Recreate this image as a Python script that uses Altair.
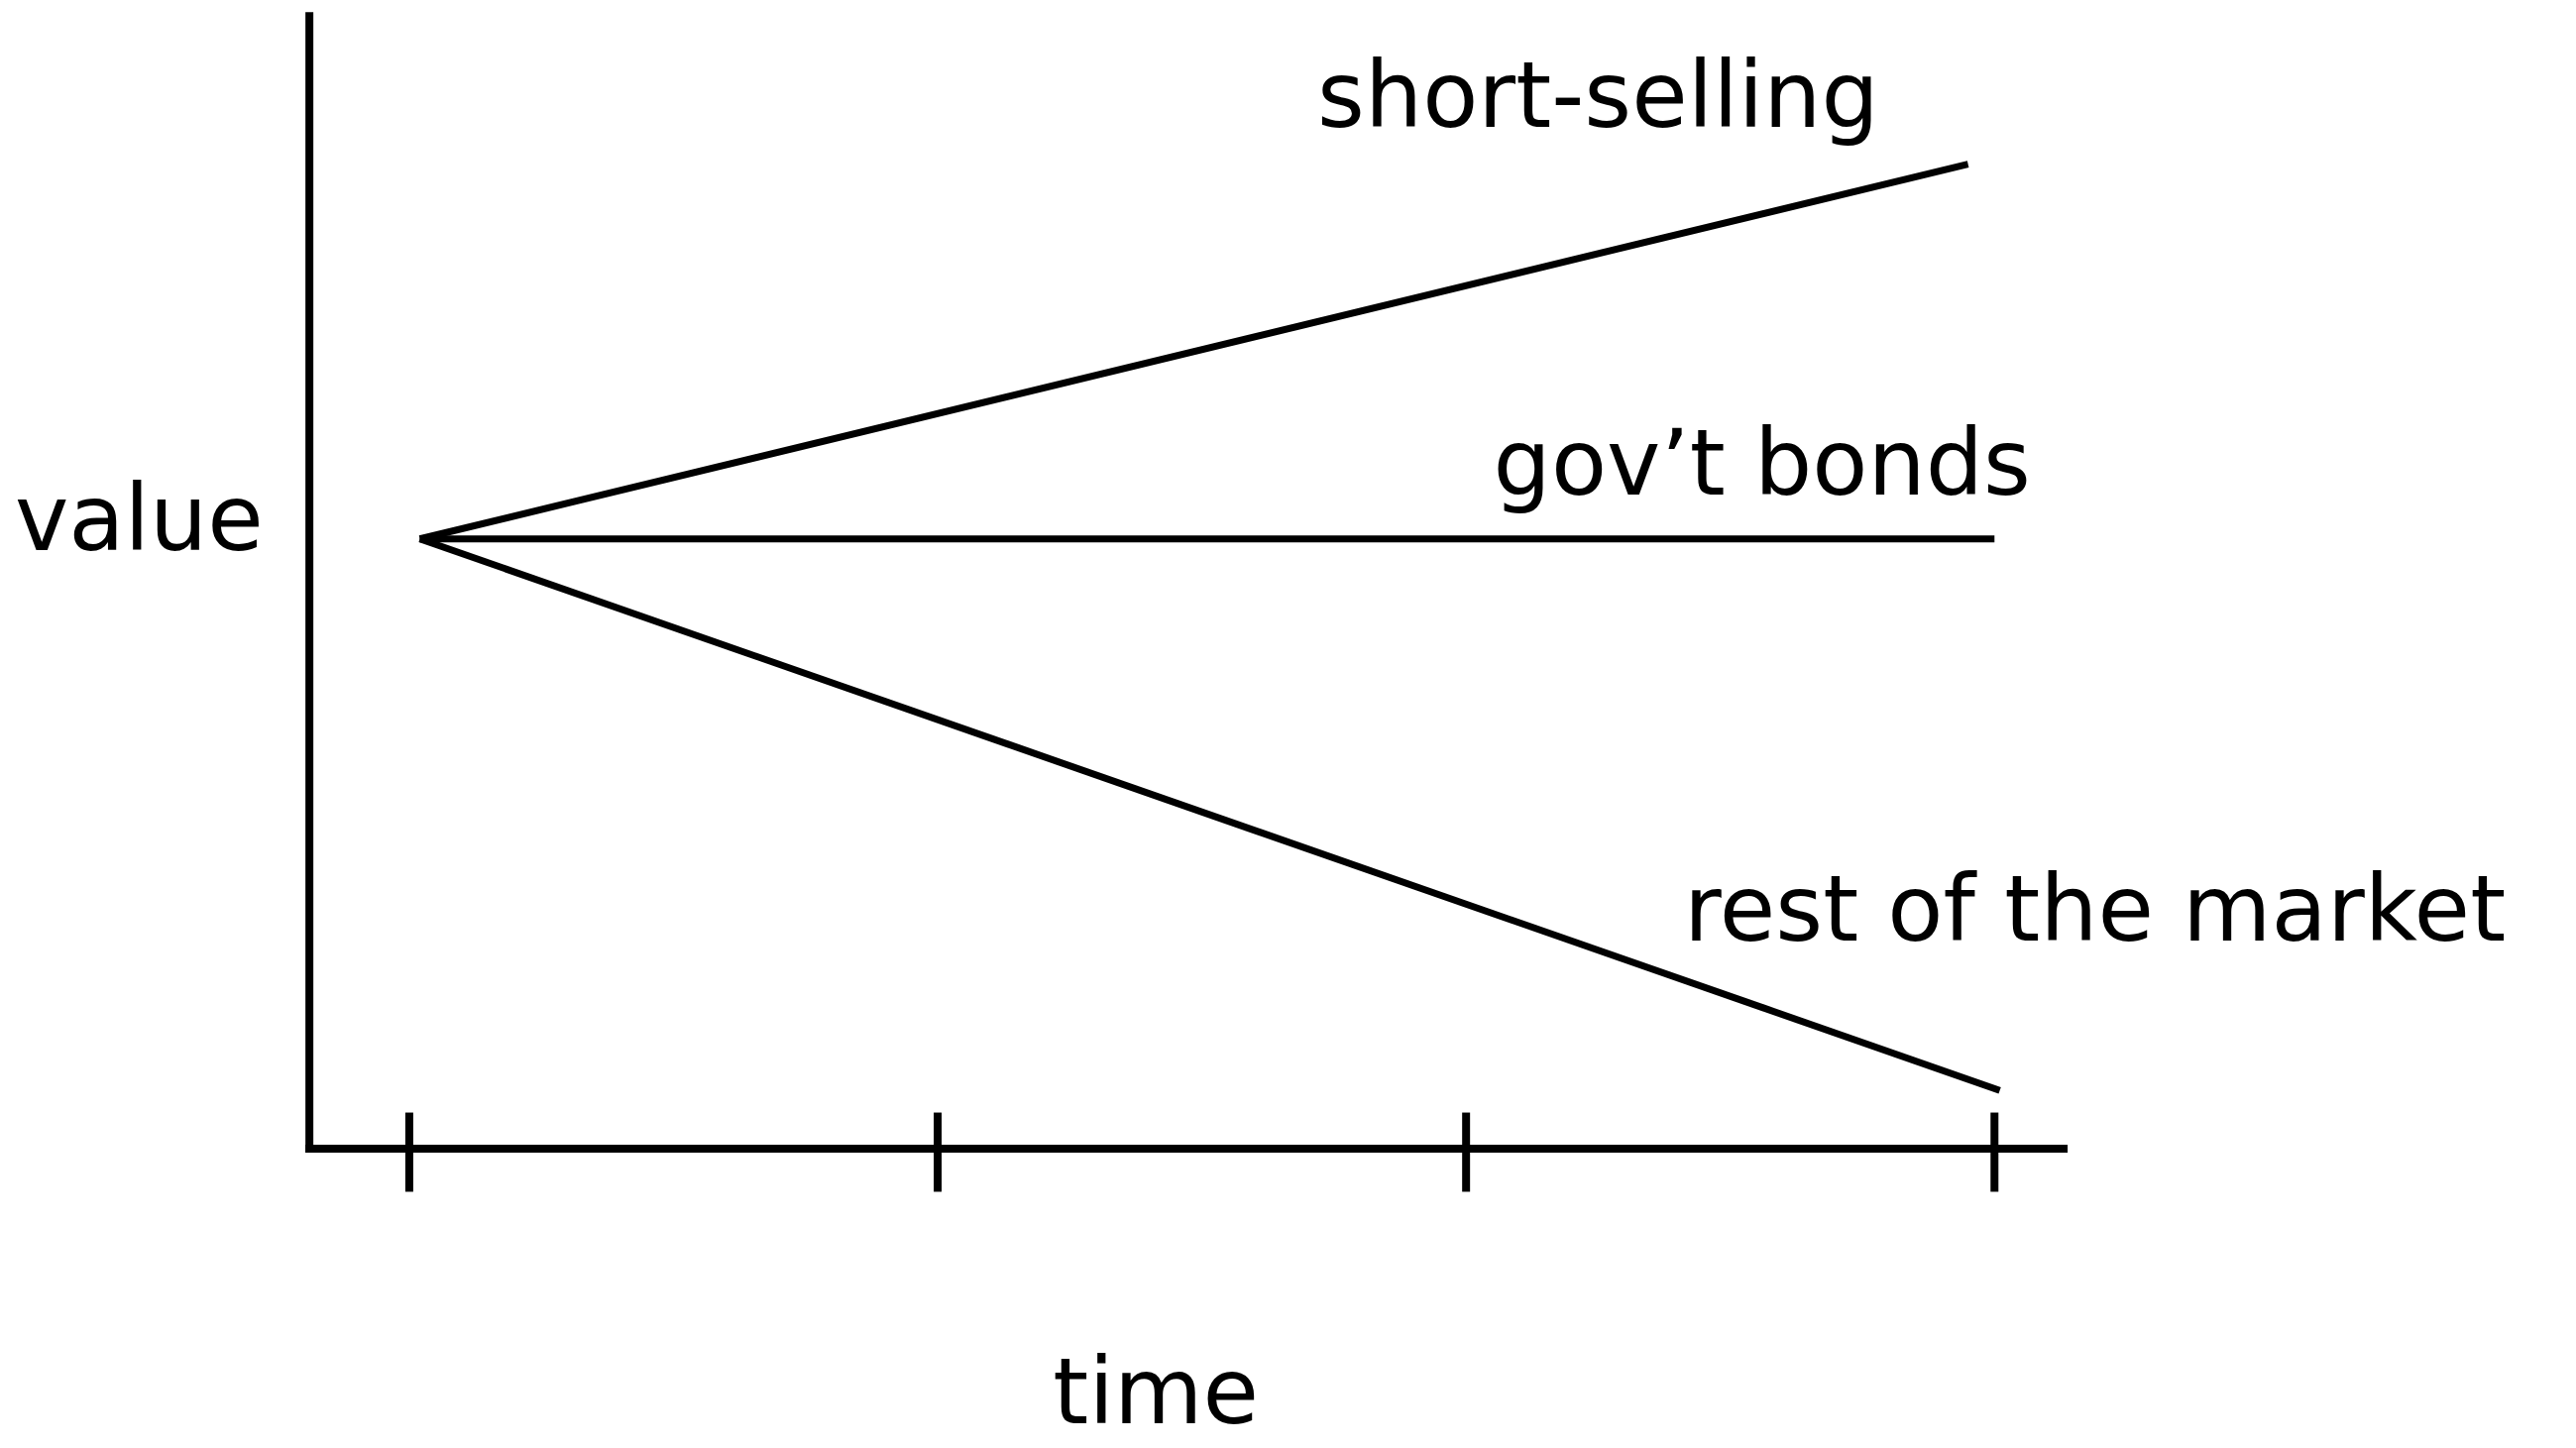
import altair as alt
import pandas as pd

# Series: start and end points (time, value)
series = ["short-selling", "gov’t bonds", "rest of the market"]
start_time = [0.02, 0.02, 0.02]
start_value = [53.8, 53.8, 53.8]
end_time = [2.95, 3.0, 3.01]
end_value = [86.9, 53.8, 5.1]

# Label anchors (centre x, baseline y) in data units
label_time = [2.25, 2.56, 3.19]
label_value = [90.2, 57.7, 18.3]

tick_times = [0, 1, 2, 3]

x_domain = [-0.19, 3.13]
y_domain = [0, 100]

W, H = 1772, 1144
FONT = "DejaVu Sans"
FS = 92

rows = []
for s, t0, v0, t1, v1 in zip(series, start_time, start_value, end_time, end_value):
    rows.append({"series": s, "time": t0, "value": v0, "order": 0})
    rows.append({"series": s, "time": t1, "value": v1, "order": 1})
lines_df = pd.DataFrame(rows)
labels_df = pd.DataFrame({"series": series, "time": label_time, "value": label_value})
ticks_df = pd.DataFrame({"time": tick_times})

xs = alt.Scale(domain=x_domain, nice=False, zero=False)
ys = alt.Scale(domain=y_domain, nice=False, zero=False)

x_axis = alt.Axis(
    title="time", labels=False, ticks=False, grid=False,
    domainColor="black", domainWidth=8, domainCap="square",
    titleFont=FONT, titleFontSize=FS, titleFontWeight="normal", titleColor="black",
    titleAlign="center", titleBaseline="alphabetic", titleX=855, titleY=277,
)
y_axis = alt.Axis(
    title="value", labels=False, ticks=False, grid=False,
    domainColor="black", domainWidth=8, domainCap="square",
    titleFont=FONT, titleFontSize=FS, titleFontWeight="normal", titleColor="black",
    titleAngle=0, titleAlign="center", titleBaseline="alphabetic", titleX=-172, titleY=539,
)

lines = alt.Chart(lines_df).mark_line(color="black", strokeWidth=7, clip=False).encode(
    x=alt.X("time:Q", scale=xs, axis=x_axis),
    y=alt.Y("value:Q", scale=ys, axis=y_axis),
    detail="series:N",
    order="order:Q",
)

ticks = alt.Chart(ticks_df).mark_rule(color="black", strokeWidth=8, clip=False).encode(
    x=alt.X("time:Q", scale=xs),
    y=alt.value(H - 36),
    y2=alt.value(H + 44),
)

labels = alt.Chart(labels_df).mark_text(
    font=FONT, fontSize=FS, color="black", align="center", baseline="alphabetic", clip=False
).encode(
    x=alt.X("time:Q", scale=xs),
    y=alt.Y("value:Q", scale=ys),
    text="series:N",
)

chart = alt.layer(lines, ticks, labels).properties(
    width=W, height=H,
    autosize=alt.AutoSizeParams(type="none"),
    padding={"left": 304, "top": 7, "right": 510, "bottom": 300},
    background="white",
).configure_view(stroke=None)

chart.save("out.html", embed_options={"renderer": "svg", "actions": False})
